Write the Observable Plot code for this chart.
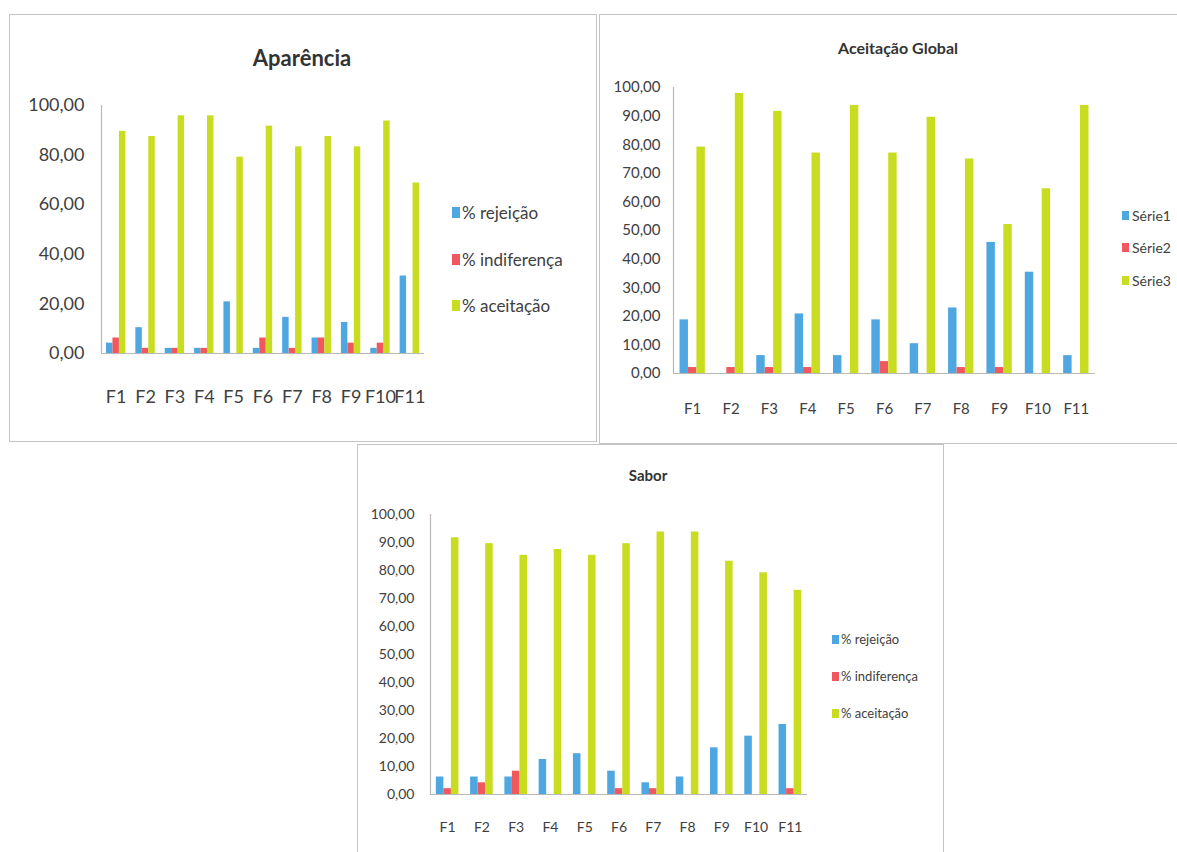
<!DOCTYPE html>
<html>
<head>
<meta charset="utf-8">
<script src="https://cdn.jsdelivr.net/npm/d3@7"></script>
<script src="https://cdn.jsdelivr.net/npm/@observablehq/plot@0.6"></script>
<style>
  html, body { margin: 0; padding: 0; background: #fff; }
  body { width: 1177px; height: 852px; position: relative; overflow: hidden; font-family: Lato, "Open Sans", sans-serif; }
  .box { position: absolute; border: 1.5px solid #c4c4c4; box-sizing: border-box; background: #fff; }
  .abs { position: absolute; }
  .title { position: absolute; font-weight: bold; color: #333; white-space: nowrap; transform: translate(-50%, -50%); }
  .leg { position: absolute; white-space: nowrap; color: #404040; transform: translateY(-50%); }
  .sw { position: absolute; }
</style>
</head>
<body>
<script>
const categories = ["F1","F2","F3","F4","F5","F6","F7","F8","F9","F10","F11"];

// Aparência
const apSeries = ["% rejeição", "% indiferença", "% aceitação"];
const apRejeicao    = [4.17, 10.42, 2.08, 2.08, 20.83, 2.08, 14.58, 6.25, 12.50, 2.08, 31.25];
const apIndiferenca = [6.25, 2.08, 2.08, 2.08, 0, 6.25, 2.08, 6.25, 4.17, 4.17, 0];
const apAceitacao   = [89.58, 87.50, 95.83, 95.83, 79.17, 91.67, 83.33, 87.50, 83.33, 93.75, 68.75];
const apTicks = [0, 20, 40, 60, 80, 100];

// Aceitação Global
const agSeries = ["Série1", "Série2", "Série3"];
const agSerie1 = [18.75, 0, 6.25, 20.83, 6.25, 18.75, 10.42, 22.92, 45.83, 35.42, 6.25];
const agSerie2 = [2.08, 2.08, 2.08, 2.08, 0, 4.17, 0, 2.08, 2.08, 0, 0];
const agSerie3 = [79.17, 97.92, 91.67, 77.08, 93.75, 77.08, 89.58, 75.00, 52.08, 64.58, 93.75];
const agTicks = [0, 10, 20, 30, 40, 50, 60, 70, 80, 90, 100];

// Sabor
const saSeries = ["% rejeição", "% indiferença", "% aceitação"];
const saRejeicao    = [6.25, 6.25, 6.25, 12.50, 14.58, 8.33, 4.17, 6.25, 16.67, 20.83, 25.00];
const saIndiferenca = [2.08, 4.17, 8.33, 0, 0, 2.08, 2.08, 0, 0, 0, 2.08];
const saAceitacao   = [91.67, 89.58, 85.42, 87.50, 85.42, 89.58, 93.75, 93.75, 83.33, 79.17, 72.92];
const saTicks = [0, 10, 20, 30, 40, 50, 60, 70, 80, 90, 100];

const colors = ["#4fa7e2", "#f0585e", "#c8dc20"];
const PAD = 0.17, BW = 0.22;
const fmt = d => d.toFixed(2).replace(".", ",");

function rowsOf(seriesNames, arrays) {
  const rows = [];
  arrays.forEach((arr, s) => arr.forEach((v, i) => rows.push({i, s, series: seriesNames[s], cat: categories[i], value: v})));
  return rows;
}

function add(el) { document.body.appendChild(el); return el; }
function div(cls, css, text) {
  const d = document.createElement("div");
  d.className = cls;
  Object.assign(d.style, css);
  if (text != null) d.textContent = text;
  return add(d);
}

function panel(cfg) {
  div("box", {left: cfg.box[0] + "px", top: cfg.box[1] + "px", width: cfg.box[2] + "px", height: cfg.box[3] + "px"});
  const rows = rowsOf(cfg.series, cfg.arrays);
  const n = categories.length;
  const chart = Plot.plot({
    width: cfg.w, height: cfg.h,
    marginLeft: cfg.m[0], marginRight: cfg.m[1], marginTop: cfg.m[2], marginBottom: cfg.m[3],
    style: {fontFamily: "Lato, 'Open Sans', sans-serif", color: "#404040", background: "transparent"},
    x: {type: "linear", domain: [0, n], axis: null},
    y: {domain: [0, 100], axis: null},
    color: {domain: cfg.series, range: colors},
    marks: [
      Plot.rect(rows, {
        x1: d => d.i + PAD + d.s * BW,
        x2: d => d.i + PAD + (d.s + 1) * BW,
        y1: 0, y2: "value", fill: "series"
      }),
      Plot.ruleY([0], {stroke: "#b8b8b8", strokeWidth: 1.2}),
      Plot.ruleX([0], {stroke: "#b8b8b8", strokeWidth: 1.2}),
      Plot.axisY(cfg.ticks, {tickFormat: fmt, tickSize: 0, tickPadding: cfg.yPad, fontSize: cfg.yFont, fill: "#404040", label: null}),
      Plot.axisX(categories.map((c, i) => i + 0.5), {tickFormat: d => categories[Math.floor(d)], tickSize: 0, tickPadding: cfg.xPad, fontSize: cfg.xFont, fill: "#404040", label: null})
    ]
  });
  chart.style.position = "absolute";
  chart.style.left = cfg.box[0] + "px";
  chart.style.top = cfg.box[1] + "px";
  add(chart);
  div("title", {left: cfg.title[1] + "px", top: cfg.title[2] + "px", fontSize: cfg.title[3] + "px"}, cfg.title[0]);
  cfg.series.forEach((s, k) => {
    const cy = cfg.leg.ys[k];
    div("sw", {left: cfg.leg.sx + "px", top: (cy - cfg.leg.sh / 2) + "px", width: cfg.leg.sw + "px", height: cfg.leg.sh + "px", background: colors[k]});
    div("leg", {left: cfg.leg.tx + "px", top: cy + "px", fontSize: cfg.leg.font + "px"}, s);
  });
}

panel({
  box: [9, 14, 588, 428], w: 440, h: 410, m: [92, 25, 91, 71],
  series: apSeries, arrays: [apRejeicao, apIndiferenca, apAceitacao], ticks: apTicks,
  yFont: 18, yPad: 17, xFont: 18, xPad: 37,
  title: ["Aparência", 302, 57, 22],
  leg: {sx: 452, sw: 8, sh: 11, tx: 462, font: 17, ys: [212, 259, 305]}
});

panel({
  box: [599, 14, 620, 430], w: 520, h: 410, m: [74, 24, 73, 51],
  series: agSeries, arrays: [agSerie1, agSerie2, agSerie3], ticks: agTicks,
  yFont: 15, yPad: 13, xFont: 15, xPad: 30,
  title: ["Aceitação Global", 898, 47, 16],
  leg: {sx: 1122, sw: 7, sh: 9, tx: 1132, font: 14, ys: [215, 247, 280]}
});

panel({
  box: [357, 444, 587, 430], w: 460, h: 400, m: [73, 10, 70, 50],
  series: saSeries, arrays: [saRejeicao, saIndiferenca, saAceitacao], ticks: saTicks,
  yFont: 14, yPad: 16, xFont: 14, xPad: 28,
  title: ["Sabor", 648, 475, 15],
  leg: {sx: 832, sw: 7, sh: 9, tx: 841, font: 13, ys: [639, 676, 713]}
});
</script>
</body>
</html>
